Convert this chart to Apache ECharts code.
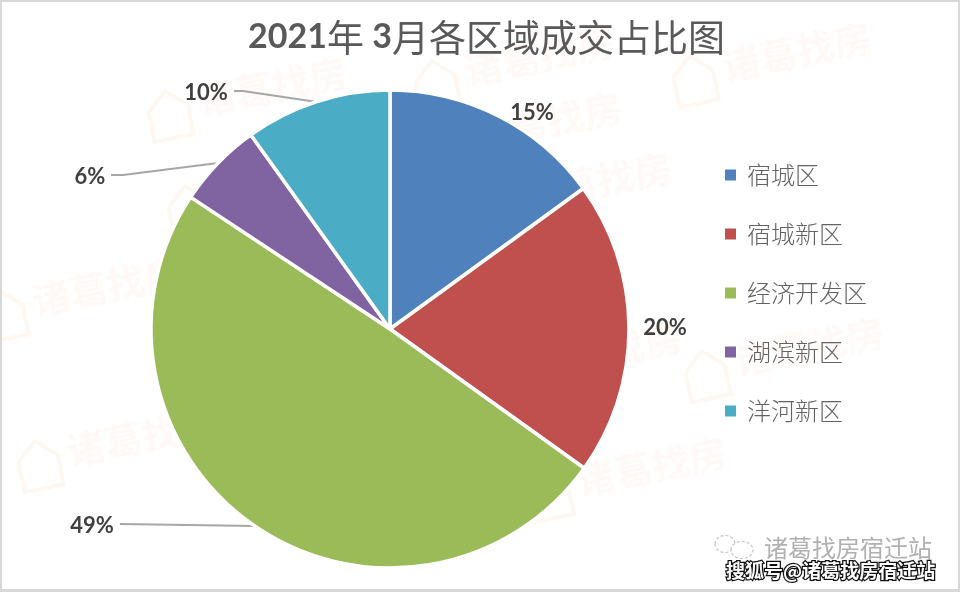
<!DOCTYPE html>
<html>
<head>
<meta charset="utf-8">
<style>
html,body{margin:0;padding:0;background:#fff;}
#chart{width:960px;height:592px;}
</style>
<script src="https://cdn.jsdelivr.net/npm/echarts@6/dist/echarts.min.js"></script>
</head>
<body>
<div id="chart"></div>
<script>
const regions = ['宿城区','宿城新区','经济开发区','湖滨新区','洋河新区'];
const shares = [15,19.9,49.4,5.8,9.9];
const colors = ['#4f81bd','#c0504d','#9bbb59','#8064a2','#4bacc6'];

// label spots, the pie library only gives us the leader lines otherwise
const labelSpots = [[532,113],[665,328],[92,526],[90,177],[206,93]];
const leaderLines = [
    null,
    null,
    [[120,524],[188,525],[255,526]],
    [[111,175],[123,175],[218,163]],
    [[234,91],[243,91],[317,102]]
];
// watermark stamps: x, y of the house corner
const stamps = [[145,95],[412,65],[670,60],[420,130],[470,190],[165,190],[-20,295],[215,265],[480,360],[682,355],[15,445],[270,400],[525,475]];

const chart = echarts.init(document.getElementById('chart'), null, {renderer:'canvas'});

const stampGraphics = stamps.map(function(p){
    return {
        type:'group', x:p[0], y:p[1], rotation:0.2, z:6, silent:true,
        children:[
            {type:'polyline',shape:{points:[[0,18],[20,0],[40,18],[40,48],[0,48],[0,18]]},style:{fill:'none',stroke:'rgba(248,190,140,0.1)',lineWidth:4}},
            {type:'text',x:50,y:-2,style:{text:'诸葛找房',font:'bold 38px "Noto Sans CJK SC"',fill:'rgba(248,190,140,0.07)'}}
        ]
    };
});

chart.setOption({
    animation:false,
    backgroundColor:'#fff',
    color:colors,
    title:{
        text:'{d|2021}{c|年 }{d|3}{c|月各区域成交占比图}',
        left:243,
        top:14,
        textStyle:{
            rich:{
                d:{fontFamily:'Lato',fontSize:34,fontWeight:'bold',color:'#595959'},
                c:{fontFamily:'"Noto Sans CJK SC"',fontSize:37,fontWeight:'normal',color:'#595959'}
            }
        }
    },
    legend:{
        orient:'vertical',
        left:718,
        top:158,
        icon:'rect',
        itemWidth:13,
        itemHeight:13,
        itemGap:35,
        textStyle:{fontFamily:'"Noto Sans CJK SC"',fontSize:24,fontWeight:300,color:'#636363',padding:[0,0,0,5]},
        data:regions
    },
    graphic:stampGraphics.concat([
        {type:'rect',shape:{x:0,y:0,width:2,height:592},style:{fill:'#d8d8d8'},z:7},
        {type:'rect',shape:{x:958,y:0,width:2,height:592},style:{fill:'#d8d8d8'},z:7},
        {type:'rect',shape:{x:0,y:0,width:960,height:2},style:{fill:'#d8d8d8'},z:7},
        {type:'rect',shape:{x:0,y:589,width:960,height:3},style:{fill:'#d8d8d8'},z:7},
        {type:'ellipse',shape:{cx:725,cy:544,rx:10,ry:8.5},style:{fill:'none',stroke:'#c4c4c4',lineWidth:1.2,lineDash:[3,2]},z:10},
        {type:'ellipse',shape:{cx:742,cy:550,rx:11,ry:8.5},style:{fill:'#fff',stroke:'#c4c4c4',lineWidth:1.2,lineDash:[3,2]},z:10},
        {type:'text',x:764,y:536,z:10,style:{text:'诸葛找房宿迁站',font:'24px "Noto Sans CJK SC"',fill:'#b0b0b0'}},
        {type:'text',x:726,y:561,z:10,style:{text:'搜狐号@诸葛找房宿迁站',font:'bold 19px "Noto Sans CJK SC"',fill:'#fff',stroke:'#111',lineWidth:2.5}}
    ]),
    series:[{
        type:'pie',
        center:[390,329],
        radius:[0,239],
        startAngle:90,
        clockwise:true,
        z:5,
        itemStyle:{borderColor:'#fff',borderWidth:3.5},
        label:{
            show:true,
            formatter:function(p){return Math.round(p.value)+'%';},
            fontFamily:'Lato',
            fontSize:22,
            fontWeight:'bold',
            color:'#404040'
        },
        labelLine:{show:true,lineStyle:{color:'#a6a6a6',width:2}},
        labelLayout:function(p){
            const spot = labelSpots[p.dataIndex];
            const out = {x:spot[0],y:spot[1],align:'center',verticalAlign:'middle'};
            out.labelLinePoints = leaderLines[p.dataIndex] || [[spot[0],spot[1]],[spot[0],spot[1]],[spot[0],spot[1]]];
            return out;
        },
        data:regions.map(function(name,i){
            return {name:name,value:shares[i],labelLine:{show:!!leaderLines[i]}};
        })
    }]
});
</script>
</body>
</html>
